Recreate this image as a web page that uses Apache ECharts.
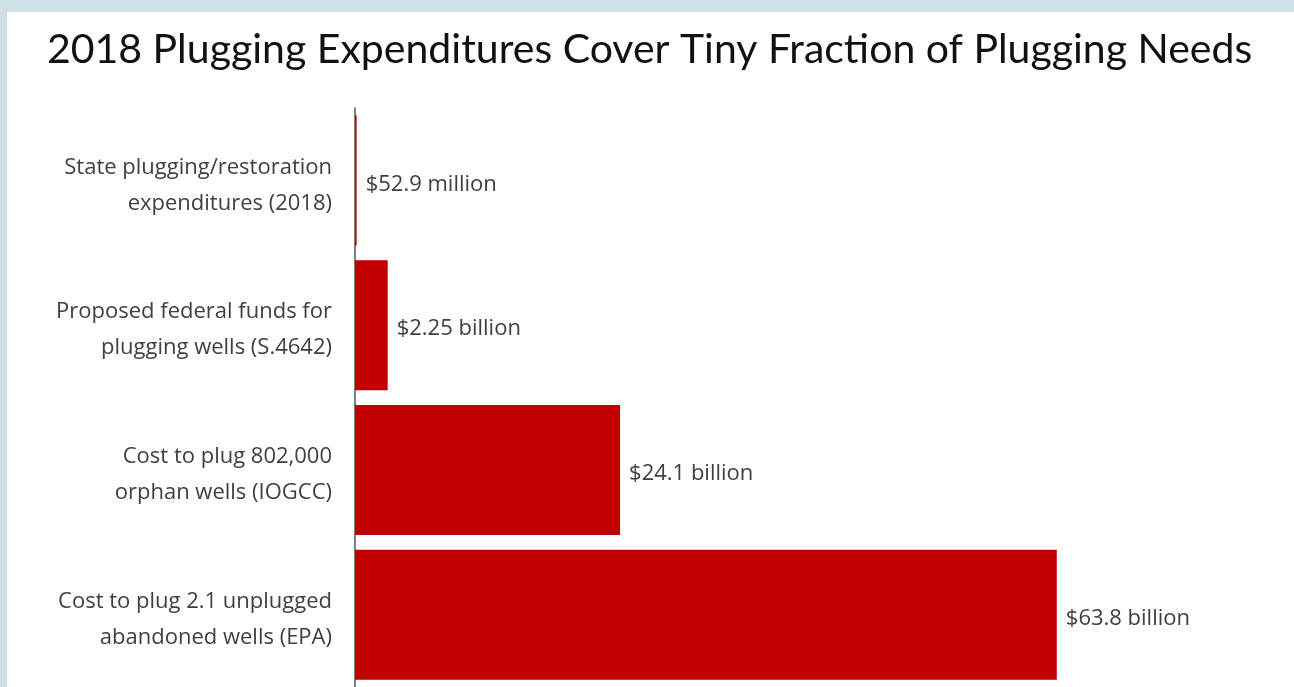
<!DOCTYPE html>
<html>
<head>
<meta charset="utf-8">
<script src="https://cdn.jsdelivr.net/npm/echarts@6/dist/echarts.min.js"></script>
<style>
html,body{margin:0;padding:0;background:#cfe1e7;}
#chart{width:1294px;height:687px;}
</style>
</head>
<body>
<div id="chart"></div>
<script>
const titleText = "2018 Plugging Expenditures Cover Tiny Fraction of Plugging Needs";
const categories = [
  "State plugging/restoration\nexpenditures (2018)",
  "Proposed federal funds for\nplugging wells (S.4642)",
  "Cost to plug 802,000\norphan wells (IOGCC)",
  "Cost to plug 2.1 unplugged\nabandoned wells (EPA)"
];
// bar lengths in billions of dollars, as drawn in the picture
const values = [0.15, 2.97, 24.1, 63.8];
const valueLabels = ["$52.9 million", "$2.25 billion", "$24.1 billion", "$63.8 billion"];

const chart = echarts.init(document.getElementById('chart'), null, {renderer: 'canvas'});
chart.setOption({
  backgroundColor: '#cfe1e7',
  animation: false,
  graphic: [{
    type: 'rect', z: -10, silent: true,
    shape: {x: 7, y: 12, width: 1287, height: 675},
    style: {fill: '#ffffff'}
  }],
  title: {
    text: titleText,
    left: 42, top: 24,
    textStyle: {fontFamily: 'Lato', fontSize: 41, fontWeight: 'normal', color: '#111111'}
  },
  grid: {left: 355, right: 59, top: 108, bottom: 0, containLabel: false},
  xAxis: {
    type: 'value', min: 0, max: 80, show: false
  },
  yAxis: {
    type: 'category', data: categories, inverse: true,
    axisLine: {show: true, lineStyle: {color: '#555555', width: 1.5}},
    axisTick: {show: false},
    axisLabel: {
      margin: 23, align: 'right',
      formatter: v => '{p| }\n' + v.split('\n').map(s => '{a|' + s + '}').join('\n'),
      rich: {
        p: {fontSize: 1, lineHeight: 10},
        a: {fontFamily: 'Open Sans', fontSize: 22, lineHeight: 36, color: '#404040', align: 'right'}
      }
    }
  },
  series: [{
    type: 'bar',
    data: values,
    barWidth: 130,
    itemStyle: {color: '#c00000'},
    label: {
      show: true, position: 'right', distance: 9, offset: [0, 4],
      fontFamily: 'Open Sans', fontSize: 22, color: '#404040',
      formatter: p => valueLabels[p.dataIndex]
    }
  }]
});
</script>
</body>
</html>
